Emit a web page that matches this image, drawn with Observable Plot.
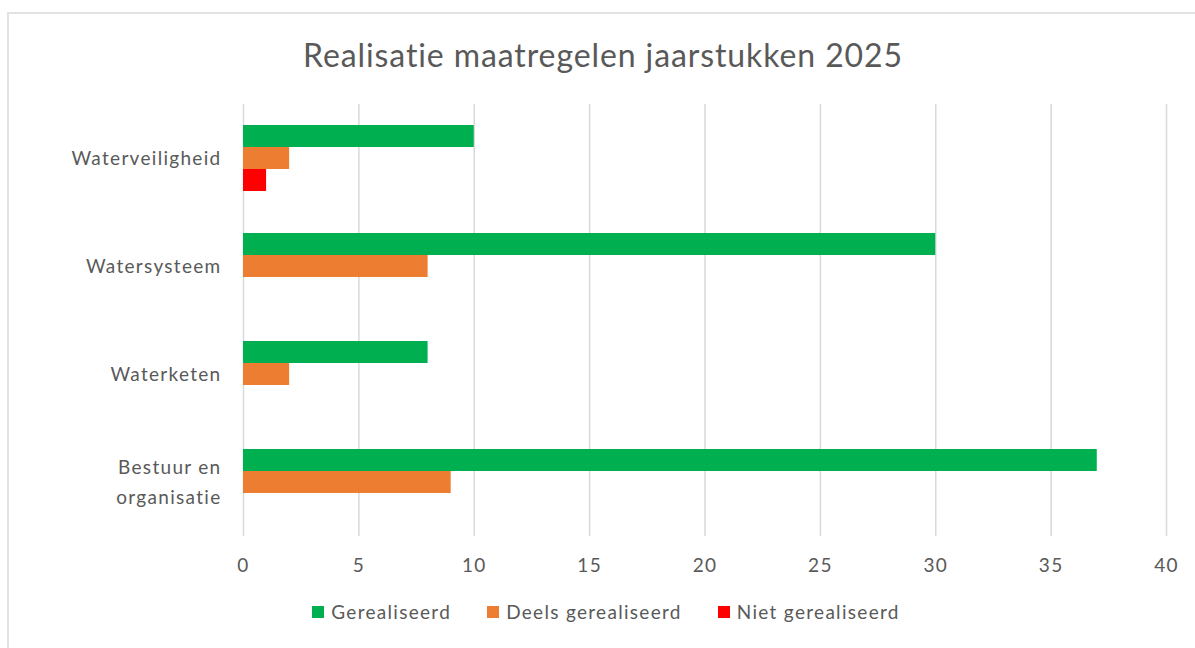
<!DOCTYPE html>
<html>
<head>
<meta charset="utf-8">
<script src="https://cdn.jsdelivr.net/npm/d3@7"></script>
<script src="https://cdn.jsdelivr.net/npm/@observablehq/plot@0.6"></script>
<style>
  html, body { margin: 0; padding: 0; background: #fff; }
  #wrap { position: relative; width: 1195px; height: 648px; overflow: hidden; font-family: Lato, "Open Sans", sans-serif; color: #595959; }
  #frame { position: absolute; left: 7px; top: 12px; width: 1200px; height: 700px; border-left: 2px solid #e3e3e3; border-top: 2px solid #e3e3e3; box-sizing: border-box; }
  #title { position: absolute; left: 0; width: 1206px; top: 35px; text-align: center; font-size: 32px; letter-spacing: 0.9px; color: #595959; }
  #chart { position: absolute; left: 0; top: 90px; }
  #legend { position: absolute; left: 0; width: 1212px; top: 600px; display: flex; justify-content: center; gap: 36px; font-size: 19px; letter-spacing: 1.3px; color: #595959; }
  #legend .item { display: flex; align-items: center; gap: 7px; }
  #legend .sw { width: 12px; height: 12px; display: inline-block; }
  #chart svg text { letter-spacing: 1.3px; }
</style>
</head>
<body>
<div id="wrap">
  <div id="frame"></div>
  <div id="title"></div>
  <div id="chart"></div>
  <div id="legend"></div>
</div>
<script>
const title = "Realisatie maatregelen jaarstukken 2025";
const categories = ["Waterveiligheid", "Watersysteem", "Waterketen", "Bestuur en organisatie"];
const categoryLabels = ["Waterveiligheid", "Watersysteem", "Waterketen", "Bestuur en\norganisatie"];
const series = ["Gerealiseerd", "Deels gerealiseerd", "Niet gerealiseerd"];
const colors = ["#00B050", "#ED7D31", "#FF0000"];
const gerealiseerd = [10, 30, 8, 37];
const deelsGerealiseerd = [2, 8, 2, 9];
const nietGerealiseerd = [1, 0, 0, 0];
const xTicks = [0, 5, 10, 15, 20, 25, 30, 35, 40];

const seriesValues = [gerealiseerd, deelsGerealiseerd, nietGerealiseerd];
const data = [];
categories.forEach((c, i) => {
  series.forEach((s, j) => {
    const v = seriesValues[j][i];
    if (v > 0) data.push({category: c, series: s, value: v});
  });
});
const labelOf = new Map(categories.map((c, i) => [c, categoryLabels[i]]));

document.getElementById("title").textContent = title;

const chart = Plot.plot({
  width: 1195,
  height: 500,
  marginLeft: 243,
  marginRight: 29,
  marginTop: 13,
  marginBottom: 53,
  style: {fontFamily: "Lato, 'Open Sans', sans-serif", fontSize: "19px", color: "#595959", background: "transparent"},
  x: {domain: [0, 40], label: null},
  y: {domain: series, paddingInner: 0, paddingOuter: 0.92, axis: null},
  fy: {domain: categories, padding: 0, label: null, axis: null},
  color: {domain: series, range: colors},
  marks: [
    Plot.gridX(xTicks, {stroke: "#d9d9d9", strokeOpacity: 1, strokeWidth: 1.5}),
    Plot.barX(data, {fy: "category", y: "series", x: "value", fill: "series"}),
    Plot.axisX(xTicks, {tickSize: 0, tickPadding: 22, label: null}),
    Plot.axisFy({anchor: "left", tickSize: 0, tickPadding: 22, dy: -3, label: null, tickFormat: d => labelOf.get(d), lineHeight: 1.6})
  ]
});
document.getElementById("chart").appendChild(chart);

const legend = document.getElementById("legend");
series.forEach((s, i) => {
  const item = document.createElement("span");
  item.className = "item";
  const sw = document.createElement("span");
  sw.className = "sw";
  sw.style.background = colors[i];
  const t = document.createElement("span");
  t.textContent = s;
  item.appendChild(sw);
  item.appendChild(t);
  legend.appendChild(item);
});
</script>
</body>
</html>
